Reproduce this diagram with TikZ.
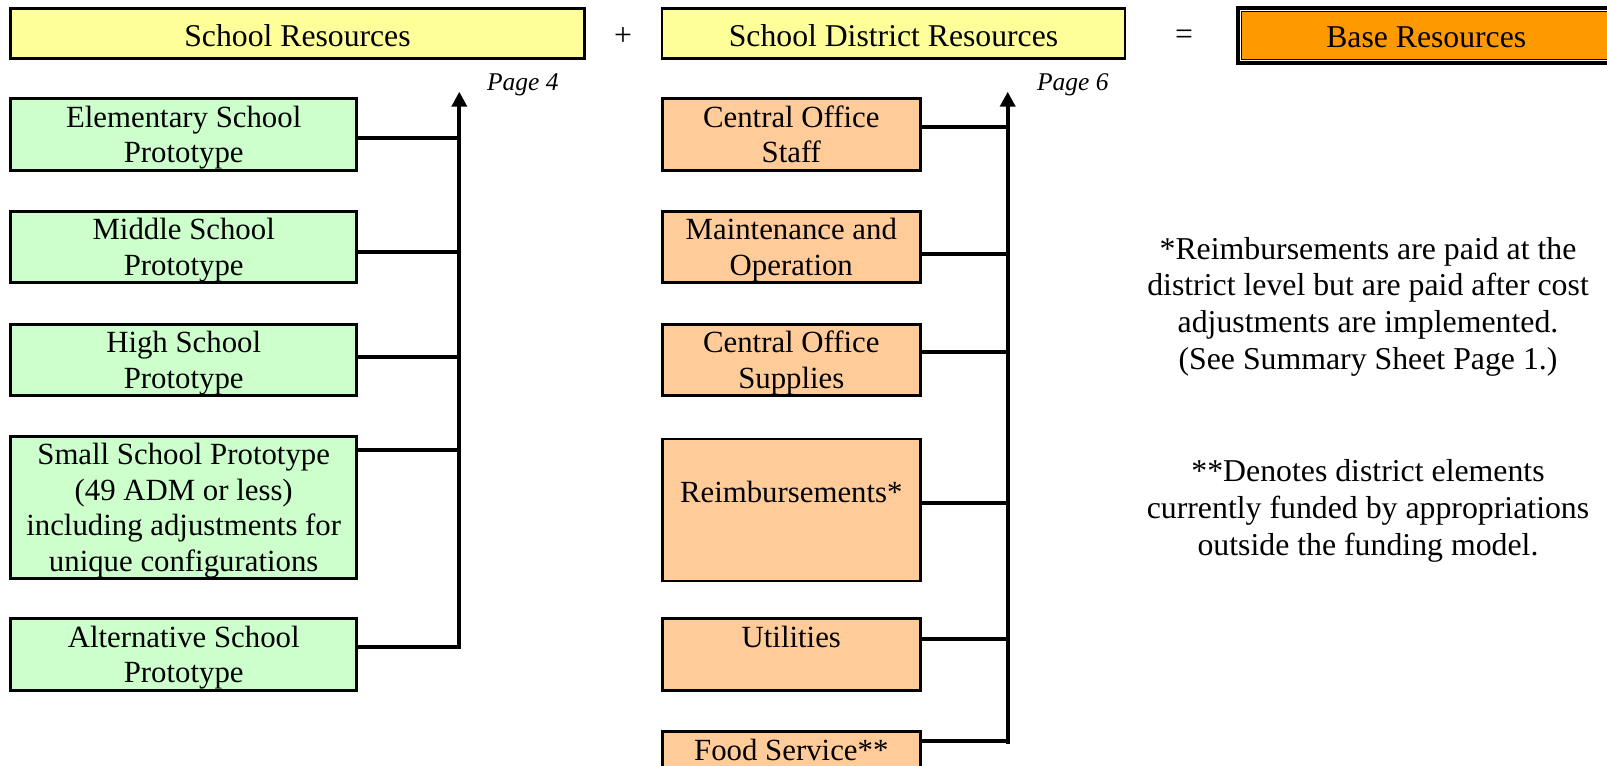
\documentclass[tikz,border=0pt]{standalone}
\usepackage{fontspec}
\setmainfont{Liberation Serif}
\usetikzlibrary{arrows.meta}
\definecolor{boxgreen}{HTML}{CCFFCC}
\definecolor{boxorange}{HTML}{FFCC99}
\definecolor{titleyellow}{HTML}{FFFF99}
\definecolor{baseorange}{HTML}{FF9900}
\newcommand{\boxstrut}{\rule[-7.15pt]{0pt}{35.5pt}}
\begin{document}
\begin{tikzpicture}[x=1pt,y=-1pt,
  every node/.style={inner sep=0pt, outer sep=0pt},
  boxbase/.style={draw=black, line width=2.6pt, align=center, font=\fontsize{30.8}{35.5}\selectfont},
  greenbox/.style={boxbase, fill=boxgreen, minimum width=346pt},
  orangebox/.style={boxbase, fill=boxorange, minimum width=258pt},
  titlebox/.style={draw=black, line width=2.6pt, fill=titleyellow, minimum height=50.4pt, text height=25pt, text depth=0pt, font=\fontsize{31.7}{37}\selectfont},
  opsign/.style={font=\fontsize{31.7}{37}\selectfont},
  pagelabel/.style={anchor=base west, font=\fontsize{25.5}{30}\selectfont\itshape},
  note/.style={align=center, font=\fontsize{31.8}{36.7}\selectfont},
  conn/.style={line width=4pt},
  spine/.style={line width=4pt, -{Triangle[length=15pt,width=15pt]}}
]
\useasboundingbox (0,0) rectangle (1607,766);
\clip (0,0) rectangle (1607,766);

% title row
\node[titlebox, minimum width=574.4pt] (sr) at (297.5,33.5) {School Resources};
\node[opsign] (plus) at (623,37) {+};
\node[titlebox, minimum width=463pt] (sdr) at (893.5,33.5) {School District Resources};
\node[opsign] (eq) at (1184,37) {=};
\node[draw=black, line width=1.5pt, fill=baseorange, minimum width=369.5pt, minimum height=48pt,
      text height=24pt, text depth=0pt, font=\fontsize{31.7}{37}\selectfont] (base) at (1426.25,35.5) {Base Resources};
\draw[line width=4pt] ([shift={(-3.5,-3.5)}]base.north west) rectangle ([shift={(3.5,3.5)}]base.south east);

\node[pagelabel] (p4) at (487,90) {Page 4};
\node[pagelabel] (p6) at (1037,90) {Page 6};

% school column
\node[greenbox, minimum height=72.4pt] (elem) at (183.7,134.5) {\boxstrut Elementary School\\\boxstrut Prototype};
\node[greenbox, minimum height=71.4pt] (mid) at (183.7,247) {\boxstrut Middle School\\\boxstrut Prototype};
\node[greenbox, minimum height=71.4pt] (high) at (183.7,360) {\boxstrut High School\\\boxstrut Prototype};
\node[greenbox, minimum height=140.8pt] (small) at (183.7,507.3) {\boxstrut Small School Prototype\\\boxstrut (49 ADM or less)\\\boxstrut including adjustments for\\\boxstrut unique configurations};
\node[greenbox, minimum height=72pt] (alt) at (183.7,654.3) {\boxstrut Alternative School\\\boxstrut Prototype};

% district column
\node[orangebox, minimum height=72.4pt] (cos) at (791.3,134.5) {\boxstrut Central Office\\\boxstrut Staff};
\node[orangebox, minimum height=71.4pt] (mo) at (791.3,247) {\boxstrut Maintenance and\\\boxstrut Operation};
\node[orangebox, minimum height=71.4pt] (cosup) at (791.3,360) {\boxstrut Central Office\\\boxstrut Supplies};
\node[orangebox, minimum height=140.8pt] (reimb) at (791.3,510) {\boxstrut\\\boxstrut Reimbursements*\\\boxstrut\\\boxstrut};
\node[orangebox, minimum height=72pt] (util) at (791.3,654.3) {\boxstrut Utilities\\\boxstrut};
\node[orangebox, minimum height=72pt] (food) at (791.3,767.3) {\boxstrut Food Service**\\\boxstrut};

% left spine
\coordinate (ltop) at (459.3,91.7);
\coordinate (lbot) at (459.3,648.7);
\draw[spine] (lbot) -- (ltop);
\coordinate (l1) at (459.3,138);
\coordinate (l2) at (459.3,252);
\coordinate (l3) at (459.3,357);
\coordinate (l4) at (459.3,450);
\coordinate (l5) at (459.3,646.7);
\draw[conn] (l1 -| elem.east) -- (l1);
\draw[conn] (l2 -| mid.east) -- (l2);
\draw[conn] (l3 -| high.east) -- (l3);
\draw[conn] (l4 -| small.east) -- (l4);
\draw[conn] (l5 -| alt.east) -- (l5);

% right spine
\coordinate (rtop) at (1007.7,91.7);
\coordinate (rbot) at (1007.7,744);
\draw[spine] (rbot) -- (rtop);
\coordinate (r1) at (1007.7,127);
\coordinate (r2) at (1007.7,254);
\coordinate (r3) at (1007.7,351.5);
\coordinate (r4) at (1007.7,503);
\coordinate (r5) at (1007.7,639);
\coordinate (r6) at (1007.7,740.7);
\draw[conn] (r1 -| cos.east) -- (r1);
\draw[conn] (r2 -| mo.east) -- (r2);
\draw[conn] (r3 -| cosup.east) -- (r3);
\draw[conn] (r4 -| reimb.east) -- (r4);
\draw[conn] (r5 -| util.east) -- (r5);
\draw[conn] (r6 -| food.east) -- (r6);

% notes
\node[note] (n1) at (1368,306.7) {*Reimbursements are paid at the\\district level but are paid after cost\\adjustments are implemented.\\(See Summary Sheet Page 1.)};
\node[note] (n2) at (1368,511) {**Denotes district elements\\currently funded by appropriations\\outside the funding model.};
\end{tikzpicture}
\end{document}
